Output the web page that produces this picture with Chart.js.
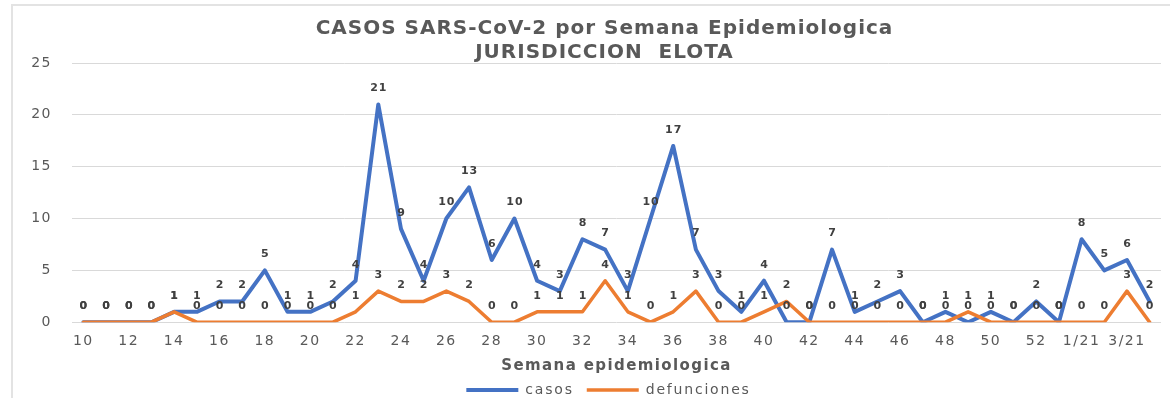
<!DOCTYPE html>
<html lang="es">
<head>
<meta charset="utf-8">
<title>CASOS SARS-CoV-2 por Semana Epidemiologica - JURISDICCION ELOTA</title>
<script src="https://cdn.jsdelivr.net/npm/chart.js@4.4.1/dist/chart.umd.min.js"></script>
<style>
  html, body { margin: 0; padding: 0; background: #ffffff; }
  #wrap { position: relative; width: 1170px; height: 398px; }
</style>
</head>
<body>
<div id="wrap"><canvas id="chart"></canvas></div>
<script>
// Epidemiological weeks (2020 weeks 10-53, then 2021 weeks 1-4)
const semanas = ['10','11','12','13','14','15','16','17','18','19','20','21','22','23','24','25',
  '26','27','28','29','30','31','32','33','34','35','36','37','38','39','40','41','42','43','44',
  '45','46','47','48','49','50','51','52','53','1/21','2/21','3/21','4/21'];

// Confirmed cases per week
const casos = [0,0,0,0,1,1,2,2,5,1,1,2,4,21,9,4,10,13,6,10,4,3,8,7,3,10,17,7,3,1,4,0,0,7,1,2,3,0,1,0,1,0,2,0,8,5,6,2];

// Deaths per week
const defunciones = [0,0,0,0,1,0,0,0,0,0,0,0,1,3,2,2,3,2,0,0,1,1,1,4,1,0,1,3,0,0,1,2,0,0,0,0,0,0,0,1,0,0,0,0,0,0,3,0];

// Y axis range
const yMin = 0, yMax = 25, yStep = 5;

const FONT = '"DejaVu Sans", "Liberation Sans", sans-serif';
const GREY = '#595959';

// Wraps a method so its text is measured / drawn with extra letter spacing
function spaced(obj, methods, sp) {
  if (!obj) return;
  methods.forEach(m => {
    const flag = '__spaced_' + m;
    if (obj[flag] || typeof obj[m] !== 'function') return;
    const orig = obj[m];
    obj[flag] = true;
    obj[m] = function (...args) {
      const ctx = this.ctx;
      const prev = ctx.letterSpacing;
      ctx.letterSpacing = sp;
      try { return orig.apply(this, args); }
      finally { ctx.letterSpacing = prev; }
    };
  });
}

const textSpacing = {
  id: 'textSpacing',
  beforeLayout(chart) {
    spaced(chart.titleBlock, ['draw'], '1px');
    spaced(chart.legend, ['fit', 'draw'], '1.8px');
    spaced(chart.scales.x, ['update', 'drawLabels'], '1.5px');
    spaced(chart.scales.y, ['update', 'drawLabels'], '1.5px');
    spaced(chart.scales.x, ['drawTitle'], '1.4px');
  },
  // centre the title and legend a little right of the canvas middle
  afterLayout(chart) {
    if (chart.titleBlock) chart.titleBlock.left = 48;
    if (chart.legend) chart.legend.left = 56;
  }
};

// Light frame around the chart
const frame = {
  id: 'frame',
  beforeDraw(chart) {
    const ctx = chart.ctx;
    ctx.save();
    ctx.strokeStyle = '#e3e3e3';
    ctx.lineWidth = 2;
    ctx.beginPath();
    ctx.moveTo(12, 398);
    ctx.lineTo(12, 5);
    ctx.lineTo(1170, 5);
    ctx.stroke();
    ctx.restore();
  }
};

// Value labels above every point of each series
const pointValues = {
  id: 'pointValues',
  afterDatasetsDraw(chart) {
    const ctx = chart.ctx;
    ctx.save();
    ctx.font = 'bold 11px ' + FONT;
    ctx.letterSpacing = '1px';
    ctx.fillStyle = '#404040';
    ctx.textAlign = 'center';
    ctx.textBaseline = 'middle';
    chart.data.datasets.forEach((ds, di) => {
      const meta = chart.getDatasetMeta(di);
      meta.data.forEach((pt, i) => {
        ctx.fillText(String(ds.data[i]), pt.x + 0.5, pt.y - 16);
      });
    });
    ctx.restore();
  }
};

new Chart(document.getElementById('chart'), {
  type: 'line',
  data: {
    labels: semanas,
    datasets: [
      {
        label: 'casos',
        data: casos,
        borderColor: '#4472C4',
        backgroundColor: '#4472C4',
        borderWidth: 4,
        pointRadius: 0,
        tension: 0,
        borderJoinStyle: 'round',
        borderCapStyle: 'round',
        order: 1
      },
      {
        label: 'defunciones',
        data: defunciones,
        borderColor: '#ED7D31',
        backgroundColor: '#ED7D31',
        borderWidth: 3.5,
        pointRadius: 0,
        tension: 0,
        borderJoinStyle: 'round',
        borderCapStyle: 'round',
        order: 0
      }
    ]
  },
  options: {
    responsive: true,
    maintainAspectRatio: false,
    animation: false,
    events: [],
    layout: { padding: { left: 0, right: 9, top: 0, bottom: 0 } },
    plugins: {
      title: {
        display: true,
        text: ['CASOS SARS-CoV-2 por Semana Epidemiologica', 'JURISDICCION  ELOTA'],
        color: GREY,
        font: { family: FONT, size: 20, weight: 'bold', lineHeight: 1.2 },
        padding: { top: 17, bottom: -2 }
      },
      legend: {
        display: true,
        position: 'bottom',
        maxHeight: 28,
        labels: {
          usePointStyle: true,
          pointStyle: 'line',
          pointStyleWidth: 52,
          color: GREY,
          font: { family: FONT, size: 14 },
          padding: 13,
          sort: (a, b) => a.datasetIndex - b.datasetIndex
        }
      },
      tooltip: { enabled: false }
    },
    scales: {
      x: {
        offset: true,
        grid: { display: false, drawTicks: false },
        border: { display: false },
        ticks: {
          autoSkip: false,
          maxRotation: 0,
          minRotation: 0,
          padding: 10.5,
          color: GREY,
          font: { family: FONT, size: 14, lineHeight: 1.2 },
          callback: (v, i) => (i % 2 === 0 ? semanas[i] : '')
        },
        title: {
          display: true,
          text: 'Semana epidemiologica',
          color: GREY,
          font: { family: FONT, size: 15, weight: 'bold', lineHeight: 1 },
          padding: { top: -1, bottom: -4 }
        }
      },
      y: {
        min: yMin,
        max: yMax,
        grid: { color: '#d9d9d9', lineWidth: 1, drawTicks: false },
        border: { display: false },
        ticks: {
          stepSize: yStep,
          padding: 20,
          color: GREY,
          font: { family: FONT, size: 14, lineHeight: 1.2 }
        },
        afterFit: (s) => { s.width = 72; }
      }
    }
  },
  plugins: [textSpacing, frame, pointValues]
});
</script>
</body>
</html>
